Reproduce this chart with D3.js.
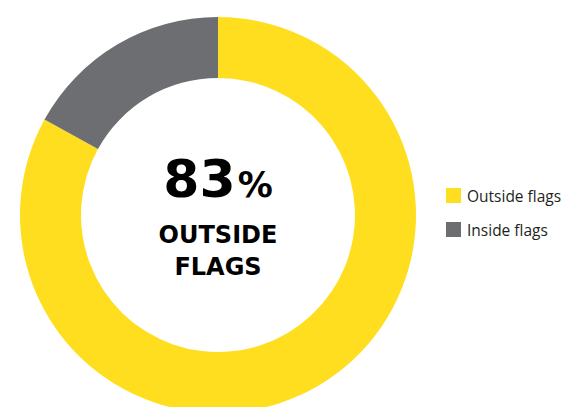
<!DOCTYPE html>
<html>
<head>
<meta charset="utf-8">
<script src="https://cdn.jsdelivr.net/npm/d3@7"></script>
<style>
  body { margin: 0; background: #fff; }
  svg { display: block; }
</style>
</head>
<body>
<svg id="chart" width="566" height="407"></svg>
<script>
// data
const categories = ["Outside flags", "Inside flags"];
const values = [83, 17];
const colors = ["#FEDE1F", "#6D6E71"];
const headline = "83";
const subLines = ["OUTSIDE", "FLAGS"];

const width = 566, height = 407;
const cx = 218, cy = 215;
const outerR = 198, innerR = 137;

const svg = d3.select("#chart");

const color = d3.scaleOrdinal().domain(categories).range(colors);

const pie = d3.pie().sort(null).value(d => d.value);
const arcs = pie(categories.map((c, i) => ({ name: c, value: values[i] })));
const arc = d3.arc().innerRadius(innerR).outerRadius(outerR);

const g = svg.append("g").attr("transform", `translate(${cx},${cy})`);

g.selectAll("path")
  .data(arcs)
  .join("path")
  .attr("d", arc)
  .attr("fill", d => color(d.data.name));

// centre label
const big = g.append("text")
  .attr("text-anchor", "middle")
  .attr("y", -18)
  .attr("font-family", "'DejaVu Sans', sans-serif")
  .attr("font-weight", 700)
  .attr("fill", "#000");
big.append("tspan").attr("font-size", 52).text(headline);
big.append("tspan").attr("font-size", 35).attr("dx", 2).text("%");

g.selectAll("text.sub")
  .data(subLines)
  .join("text")
  .attr("class", "sub")
  .attr("text-anchor", "middle")
  .attr("x", 0)
  .attr("y", (d, i) => 28 + i * 32)
  .attr("font-family", "'DejaVu Sans', sans-serif")
  .attr("font-weight", 700)
  .attr("font-size", 24)
  .attr("fill", "#000")
  .text(d => d);

// legend
const legend = svg.append("g").attr("transform", "translate(446,188)");
const item = legend.selectAll("g")
  .data(categories)
  .join("g")
  .attr("transform", (d, i) => `translate(0,${i * 34})`);

item.append("rect")
  .attr("width", 15)
  .attr("height", 15)
  .attr("fill", d => color(d));

item.append("text")
  .attr("x", 21)
  .attr("y", 13.5)
  .attr("font-family", "'Open Sans', sans-serif")
  .attr("font-size", 15.5)
  .attr("fill", "#231F20")
  .text(d => d);
</script>
</body>
</html>
